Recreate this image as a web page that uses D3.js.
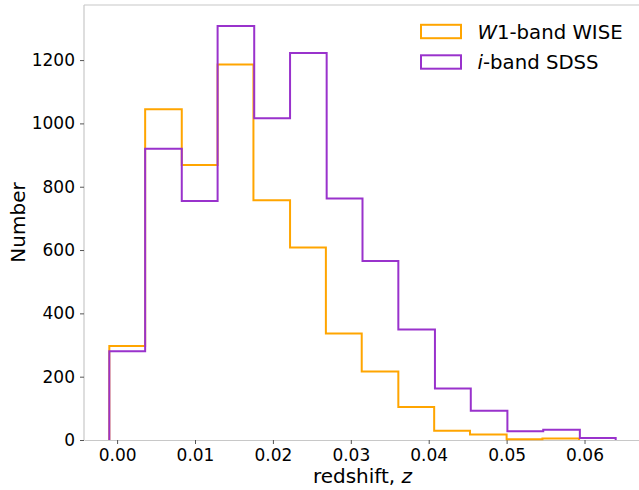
<!DOCTYPE html>
<html>
<head>
<meta charset="utf-8">
<script src="https://cdn.jsdelivr.net/npm/d3@7"></script>
<style>
  html, body { margin: 0; padding: 0; background: #fff; }
  svg { display: block; font-family: "DejaVu Sans", sans-serif; }
</style>
</head>
<body>
<svg id="chart" width="639" height="490"></svg>
<script>
// Bin edges (redshift) and counts for each survey
const sdssEdges = [-0.0010, 0.0036, 0.0083, 0.0129, 0.0176, 0.0222, 0.0269, 0.0315,
                   0.0361, 0.0408, 0.0454, 0.0501, 0.0547, 0.0594, 0.0640];
const sdssCounts = [280, 920, 755, 1308, 1016, 1222, 763, 565, 349, 163, 92, 28, 32, 6];

const wiseEdges = [-0.0010, 0.0036, 0.0083, 0.0129, 0.0175, 0.0222, 0.0268, 0.0314,
                   0.0361, 0.0407, 0.0453, 0.0500, 0.0546, 0.0593];
const wiseCounts = [297, 1045, 869, 1186, 757, 608, 336, 216, 104, 29, 17, 2, 5];

const xTicks = [0.00, 0.01, 0.02, 0.03, 0.04, 0.05, 0.06];
const yTicks = [0, 200, 400, 600, 800, 1000, 1200];

const seriesNames = ["W1-band WISE", "i-band SDSS"];
const seriesColors = ["#FFA500", "#9932CC"];

(function () {
  const svg = d3.select("#chart");
  const m = { left: 84, right: 641, top: 5, bottom: 440 };

  const x = d3.scaleLinear().domain([-0.00425, 0.06725]).range([m.left, m.right]);
  const y = d3.scaleLinear().domain([0, 1374]).range([m.bottom, m.top]);

  // spines
  const spine = "#c8c8c8";
  svg.append("line").attr("x1", m.left).attr("x2", m.left).attr("y1", m.top).attr("y2", m.bottom)
    .attr("stroke", spine).attr("stroke-width", 1.2);
  svg.append("line").attr("x1", m.left).attr("x2", 639).attr("y1", m.top).attr("y2", m.top)
    .attr("stroke", spine).attr("stroke-width", 1.2);

  // axes
  const xAxis = d3.axisBottom(x).tickValues(xTicks).tickFormat(d3.format(".2f"))
    .tickSizeInner(4).tickSizeOuter(0).tickPadding(5);
  const gx = svg.append("g").attr("transform", `translate(0,${m.bottom})`).call(xAxis);
  gx.select(".domain").attr("stroke", spine).attr("stroke-width", 1.2);
  gx.selectAll(".tick line").attr("stroke", "#555");
  gx.selectAll(".tick text").attr("font-size", 17).attr("fill", "#000")
    .attr("font-family", "DejaVu Sans");

  const yAxis = d3.axisLeft(y).tickValues(yTicks).tickFormat(d3.format("d"))
    .tickSizeInner(4).tickSizeOuter(0).tickPadding(5);
  const gy = svg.append("g").attr("transform", `translate(${m.left},0)`).call(yAxis);
  gy.select(".domain").remove();
  gy.selectAll(".tick line").attr("stroke", "#555");
  gy.selectAll(".tick text").attr("font-size", 17).attr("fill", "#000")
    .attr("font-family", "DejaVu Sans");

  // axis labels
  const xl = svg.append("text").attr("x", (m.left + m.right) / 2).attr("y", 483)
    .attr("text-anchor", "middle").attr("font-size", 20);
  xl.append("tspan").text("redshift, ");
  xl.append("tspan").attr("font-style", "italic").text("z");

  svg.append("text").attr("transform", `translate(25,${(m.top + m.bottom) / 2}) rotate(-90)`)
    .attr("text-anchor", "middle").attr("font-size", 20).text("Number");

  // step outline of a histogram
  function stepPath(edges, counts) {
    const pts = [[edges[0], 0]];
    counts.forEach((c, i) => { pts.push([edges[i], c]); pts.push([edges[i + 1], c]); });
    pts.push([edges[edges.length - 1], 0]);
    return d3.line().x(d => x(d[0])).y(d => y(d[1]))(pts);
  }

  const histos = [[wiseEdges, wiseCounts], [sdssEdges, sdssCounts]];
  histos.forEach(([e, c], i) => {
    svg.append("path").attr("d", stepPath(e, c)).attr("fill", "none")
      .attr("stroke", seriesColors[i]).attr("stroke-width", 2)
      .attr("stroke-linejoin", "miter");
  });

  // legend
  const leg = svg.append("g");
  seriesNames.forEach((name, i) => {
    const cy = 31.5 + i * 30.5;
    leg.append("rect").attr("x", 421).attr("y", cy - 6.7).attr("width", 40).attr("height", 13.4)
      .attr("fill", "none").attr("stroke", seriesColors[i]).attr("stroke-width", 2);
    const t = leg.append("text").attr("x", 477.5).attr("y", cy + 7).attr("font-size", 19.7);
    if (i === 0) {
      t.append("tspan").attr("font-style", "italic").text("W");
      t.append("tspan").text("1-band WISE");
    } else {
      t.append("tspan").attr("font-style", "italic").text("i");
      t.append("tspan").text("-band SDSS");
    }
  });
})();
</script>
</body>
</html>
